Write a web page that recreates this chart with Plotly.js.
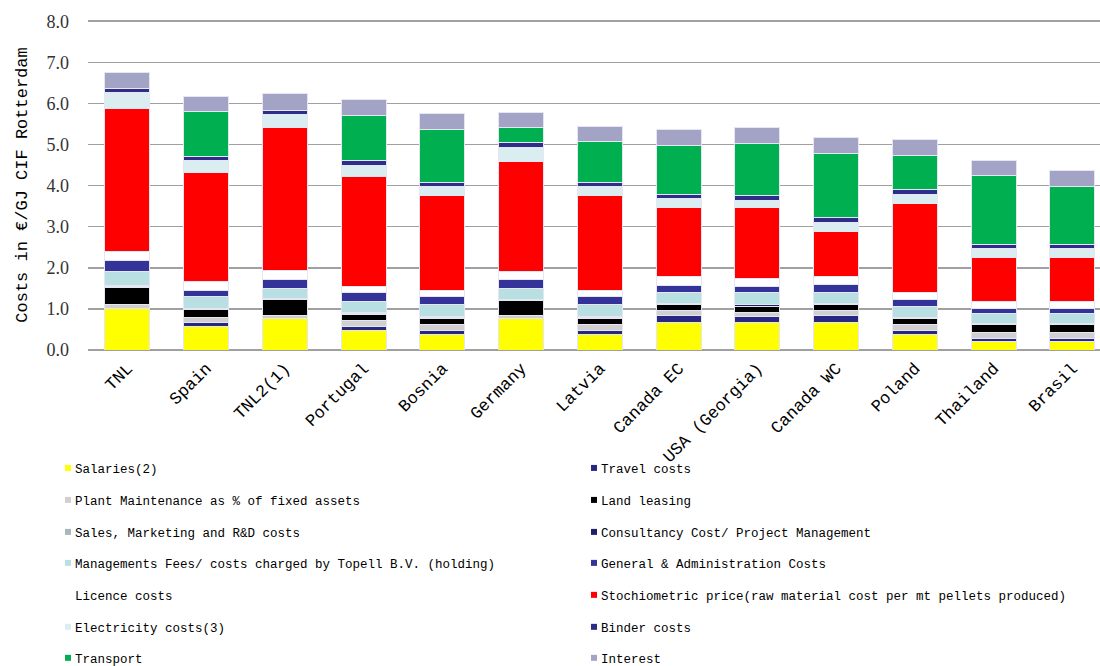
<!DOCTYPE html>
<html>
<head>
<meta charset="utf-8">
<script src="https://cdn.plot.ly/plotly-3.0.1.min.js"></script>
<style>html,body{margin:0;padding:0;background:#fff;}#chart{width:1100px;height:666px;}</style>
</head>
<body>
<div id="chart"></div>
<script>
const countries = ["TNL","Spain","TNL2(1)","Portugal","Bosnia","Germany","Latvia","Canada EC","USA (Georgia)","Canada WC","Poland","Thailand","Brasil"];

const salaries     = [1.01,0.58,0.76,0.47,0.38,0.76,0.38,0.67,0.67,0.67,0.38,0.20,0.20];
const travel       = [0.00,0.09,0.00,0.11,0.09,0.00,0.09,0.17,0.14,0.17,0.09,0.09,0.09];
const plantMaint   = [0.09,0.13,0.09,0.14,0.14,0.08,0.14,0.12,0.10,0.12,0.16,0.14,0.14];
const landLeasing  = [0.42,0.19,0.37,0.15,0.15,0.36,0.15,0.14,0.15,0.14,0.13,0.18,0.18];
const salesMkt     = [0.02,0.01,0.01,0.01,0.02,0.01,0.02,0.01,0.01,0.01,0.01,0.01,0.01];
const consultancy  = [0.03,0.02,0.02,0.03,0.03,0.03,0.03,0.03,0.03,0.03,0.03,0.03,0.03];
const mgmtFees     = [0.33,0.28,0.24,0.27,0.29,0.25,0.29,0.26,0.29,0.26,0.26,0.24,0.24];
const genAdmin     = [0.29,0.16,0.23,0.21,0.20,0.23,0.20,0.18,0.15,0.19,0.17,0.12,0.12];
const licence      = [0.20,0.20,0.21,0.15,0.15,0.20,0.15,0.21,0.20,0.20,0.18,0.18,0.18];
const stochiometric= [3.49,2.66,3.49,2.69,2.31,2.67,2.31,1.68,1.73,1.10,2.15,1.07,1.07];
const electricity  = [0.39,0.28,0.30,0.25,0.23,0.34,0.23,0.22,0.17,0.22,0.22,0.21,0.21];
const binder       = [0.10,0.11,0.12,0.13,0.08,0.11,0.08,0.09,0.12,0.11,0.12,0.09,0.09];
const transport    = [0.00,1.09,0.00,1.10,1.30,0.37,1.01,1.20,1.27,1.57,0.84,1.68,1.42];
const interest     = [0.39,0.37,0.39,0.38,0.38,0.38,0.37,0.39,0.38,0.37,0.38,0.37,0.38];

const seriesNames = ["Salaries(2)","Travel costs","Plant Maintenance as % of fixed assets","Land leasing",
  "Sales, Marketing and R&D costs","Consultancy Cost/ Project Management",
  "Managements Fees/ costs charged by Topell B.V. (holding)","General & Administration Costs",
  "Licence costs","Stochiometric price(raw material cost per mt pellets produced)",
  "Electricity costs(3)","Binder costs","Transport","Interest"];
const seriesValues = [salaries,travel,plantMaint,landLeasing,salesMkt,consultancy,mgmtFees,genAdmin,
  licence,stochiometric,electricity,binder,transport,interest];
const seriesColors = ["#FFFF00","#282882","#D0D0D0","#000000","#A9B6BA","#1F1F6E","#B8E0E3","#333399",
  "#FFFFFF","#FF0000","#DAEEF1","#2E2E8A","#00B050","#A3A3C6"];

const traces = seriesNames.map((n,i)=>({
  type:'bar', name:n, x:countries, y:seriesValues[i],
  marker:{color:seriesColors[i], line:{color:'#E6E6F2', width:1}},
  showlegend:false, hoverinfo:'x+y+name'
}));

// legend built from the series arrays (two columns, row-wise order)
const yMax = 8.03;
const plotBottom = 350, pxPerUnit = 41.12, plotTop = plotBottom - yMax*pxPerUnit;
const plotLeft = 88, plotW = 1012;
const pxToPaperY = y => (plotBottom - y) / (plotBottom - plotTop);
const pxToPaperX = x => (x - plotLeft) / plotW;
const rowY = [470,502,534,565,597,629,660];
const colMarkerX = [65, 591];
const shapes = [], annotations = [];
seriesNames.forEach((n,i)=>{
  const row = Math.floor(i/2), col = i%2;
  const y = rowY[row], mx = colMarkerX[col];
  shapes.push({type:'rect', xref:'paper', yref:'paper',
    x0:pxToPaperX(mx), x1:pxToPaperX(mx+6), y0:pxToPaperY(y+1), y1:pxToPaperY(y-5),
    fillcolor:seriesColors[i], line:{width:0}});
  annotations.push({xref:'paper', yref:'paper', x:pxToPaperX(mx+8), y:pxToPaperY(y),
    xanchor:'left', yanchor:'middle', showarrow:false, text:n.replace(/&/g,'&amp;'),
    font:{family:'Liberation Mono, monospace', size:12.5, color:'#000'}});
});

const layout = {
  width:1100, height:666,
  margin:{l:plotLeft, r:0, t:plotTop, b:666-plotBottom},
  paper_bgcolor:'#fff', plot_bgcolor:'#fff',
  barmode:'stack', bargap:0.43,
  showlegend:false,
  xaxis:{range:[-0.5,12.35], tickangle:-45, ticks:'', showgrid:false, zeroline:false,
    showline:false, ticklabelstandoff:4,
    tickfont:{family:'Liberation Mono, monospace', size:17, color:'#000'}},
  yaxis:{range:[0,yMax], tickvals:[0,1,2,3,4,5,6,7,8], tickformat:'.1f', showgrid:true,
    gridcolor:'#A0A0A0', gridwidth:1.5,
    zeroline:true, zerolinecolor:'#A0A0A0', zerolinewidth:1.5, showline:false, ticks:'',
    ticklabelstandoff:18,
    tickfont:{family:'Liberation Serif, serif', size:18, color:'#333'},
    title:{text:'Costs in €/GJ CIF Rotterdam', standoff:14,
      font:{family:'Liberation Mono, monospace', size:17, color:'#000'}}},
  shapes:shapes, annotations:annotations
};

Plotly.newPlot('chart', traces, layout, {displayModeBar:false, staticPlot:true});
</script>
</body>
</html>
